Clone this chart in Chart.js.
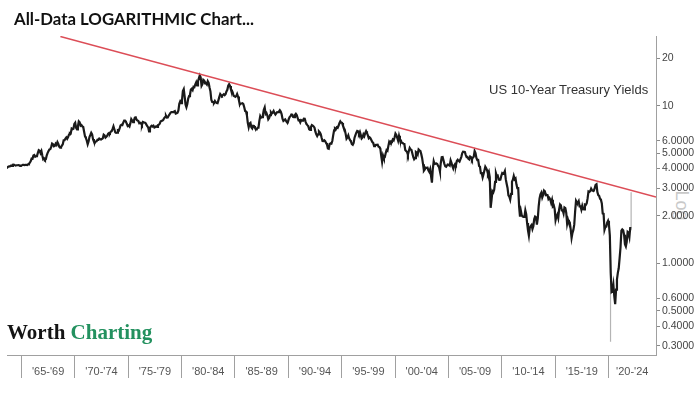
<!DOCTYPE html>
<html>
<head>
<meta charset="utf-8">
<script src="https://cdn.jsdelivr.net/npm/chart.js@4"></script>
<style>
  html, body { margin: 0; padding: 0; background: #fff; }
  #wrap { position: relative; width: 697px; height: 394px; overflow: hidden; background: #fff; }
  #chart { position: absolute; left: 0; top: 0; z-index: 2; }
  .txt { position: absolute; white-space: nowrap; line-height: 1; }
  #title { left: 14px; top: 8px; font: bold 16.8px Lato, sans-serif; color: #111; z-index: 3; }
  #series { left: 489px; top: 81.5px; font: 13px "Liberation Sans", sans-serif; color: #333; z-index: 3; }
  #logword { left: 666px; top: 195px; font: 18px "Liberation Sans", sans-serif; color: #c9c9c9; transform: rotate(90deg); transform-origin: 50% 50%; z-index: 1; }
  #logo { left: 7px; top: 320px; font: bold 21px "Liberation Serif", serif; color: #141414; z-index: 3; }
  #logo span { color: #23915f; }
</style>
</head>
<body>
<div id="wrap">
  <div class="txt" id="logword">Log</div>
  <canvas id="chart" width="697" height="394"></canvas>
  <div class="txt" id="title">All-Data LOGARITHMIC Chart...</div>
  <div class="txt" id="series">US 10-Year Treasury Yields</div>
  <div class="txt" id="logo">Worth <span>Charting</span></div>
</div>
<script>
// ---- data ----
const firstYear = 1963;
const firstMonth = 7; // July 1963
const monthlyYields = [
  4.02, 4.00, 4.08, 4.11, 4.12, 4.13,
  4.17, 4.15, 4.22, 4.23, 4.20, 4.17, 4.19, 4.19, 4.20, 4.19, 4.15, 4.18,
  4.19, 4.21, 4.21, 4.20, 4.21, 4.21, 4.20, 4.25, 4.29, 4.35, 4.45, 4.62,
  4.61, 4.83, 4.87, 4.75, 4.78, 4.81, 5.02, 5.22, 5.18, 5.01, 5.16, 4.84,
  4.58, 4.63, 4.54, 4.59, 4.85, 5.02, 5.16, 5.28, 5.30, 5.48, 5.75, 5.70,
  5.53, 5.56, 5.74, 5.64, 5.87, 5.72, 5.50, 5.42, 5.46, 5.58, 5.70, 6.03,
  6.04, 6.19, 6.30, 6.17, 6.32, 6.57, 6.72, 6.69, 7.16, 7.10, 7.14, 7.65,
  7.79, 7.24, 7.07, 7.39, 7.95, 7.84, 7.46, 7.53, 7.39, 7.33, 6.84, 6.39,
  6.24, 6.00, 5.70, 5.93, 6.33, 6.52, 6.73, 6.58, 6.14, 5.93, 5.81, 5.93,
  5.95, 6.08, 6.07, 6.19, 6.13, 6.11, 6.11, 6.21, 6.55, 6.48, 6.28, 6.36,
  6.46, 6.64, 6.71, 6.67, 6.85, 6.90, 7.13, 7.40, 7.09, 6.79, 6.73, 6.74,
  6.99, 6.96, 7.21, 7.51, 7.58, 7.54, 7.81, 8.04, 8.04, 7.90, 7.68, 7.43,
  7.50, 7.39, 7.73, 8.23, 8.06, 7.86, 8.06, 8.40, 8.43, 8.14, 8.05, 8.00,
  7.74, 7.79, 7.73, 7.56, 7.90, 7.86, 7.83, 7.77, 7.59, 7.41, 7.29, 6.87,
  7.21, 7.39, 7.46, 7.37, 7.46, 7.28, 7.33, 7.40, 7.34, 7.52, 7.58, 7.69,
  7.96, 8.03, 8.04, 8.15, 8.35, 8.46, 8.64, 8.41, 8.42, 8.64, 8.81, 9.01,
  9.10, 9.10, 9.12, 9.18, 9.25, 8.91, 8.95, 9.03, 9.33, 10.30, 10.65, 10.39,
  10.80, 12.41, 12.75, 11.47, 10.18, 9.78, 10.25, 11.10, 11.51, 11.75, 12.68, 12.84,
  12.57, 13.19, 13.12, 13.68, 14.10, 13.47, 14.28, 14.94, 15.60, 15.15, 13.39, 13.72,
  14.59, 14.43, 13.86, 13.87, 13.62, 14.30, 13.95, 13.06, 12.34, 10.91, 10.55, 10.54,
  10.46, 10.72, 10.51, 10.40, 10.38, 10.85, 11.38, 11.85, 11.65, 11.54, 11.69, 11.83,
  11.67, 11.84, 12.32, 12.63, 13.41, 13.70, 13.36, 12.72, 12.52, 12.16, 11.57, 11.50,
  11.38, 11.51, 11.86, 11.43, 10.85, 10.16, 10.31, 10.33, 10.37, 10.24, 9.78, 9.26,
  9.19, 8.70, 7.78, 7.30, 7.71, 7.80, 7.30, 7.17, 7.45, 7.43, 7.25, 7.11,
  7.08, 7.25, 7.25, 8.02, 8.61, 8.40, 8.45, 8.76, 9.42, 9.75, 8.86, 8.99,
  8.67, 8.21, 8.37, 8.72, 9.09, 8.92, 9.06, 9.26, 8.98, 8.80, 8.96, 9.11,
  9.09, 9.17, 9.36, 9.18, 8.86, 8.28, 8.02, 8.11, 8.19, 8.01, 7.87, 7.84,
  8.21, 8.47, 8.59, 8.79, 8.76, 8.48, 8.47, 8.75, 8.89, 8.72, 8.39, 8.08,
  8.09, 7.85, 8.11, 8.04, 8.07, 8.28, 8.27, 7.90, 7.65, 7.53, 7.42, 7.09,
  7.03, 7.34, 7.54, 7.48, 7.39, 7.26, 6.84, 6.59, 6.42, 6.59, 6.87, 6.77,
  6.60, 6.26, 5.98, 5.97, 6.04, 5.96, 5.81, 5.68, 5.36, 5.33, 5.72, 5.77,
  5.75, 5.97, 6.48, 6.97, 7.18, 7.10, 7.30, 7.24, 7.46, 7.74, 7.96, 7.81,
  7.78, 7.47, 7.20, 7.06, 6.63, 6.17, 6.28, 6.49, 6.20, 6.04, 5.93, 5.71,
  5.65, 5.81, 6.27, 6.51, 6.74, 6.91, 6.87, 6.64, 6.83, 6.53, 6.20, 6.30,
  6.58, 6.42, 6.69, 6.89, 6.71, 6.49, 6.22, 6.30, 6.21, 6.03, 5.88, 5.81,
  5.54, 5.57, 5.65, 5.64, 5.65, 5.50, 5.46, 5.34, 4.81, 4.40, 4.83, 4.65,
  4.72, 5.00, 5.23, 5.18, 5.54, 5.90, 5.79, 5.94, 5.92, 6.11, 6.03, 6.28,
  6.66, 6.52, 6.26, 5.99, 6.44, 6.10, 6.05, 5.83, 5.80, 5.74, 5.72, 5.24,
  5.16, 5.10, 4.89, 5.14, 5.39, 5.28, 5.24, 4.97, 4.73, 4.57, 4.65, 5.09,
  5.04, 4.91, 5.28, 5.21, 5.16, 4.93, 4.65, 4.26, 3.87, 3.94, 4.05, 4.03,
  4.05, 3.90, 3.81, 3.96, 3.57, 3.25, 3.98, 4.45, 4.27, 4.29, 4.30, 4.27,
  4.15, 4.08, 3.83, 4.35, 4.72, 4.73, 4.50, 4.28, 4.13, 4.10, 4.19, 4.23,
  4.22, 4.17, 4.50, 4.34, 4.14, 4.00, 4.18, 4.26, 4.20, 4.46, 4.54, 4.47,
  4.42, 4.57, 4.72, 4.99, 5.11, 5.11, 5.09, 4.88, 4.72, 4.73, 4.60, 4.56,
  4.76, 4.72, 4.56, 4.69, 4.75, 5.15, 5.00, 4.67, 4.52, 4.53, 4.15, 4.10,
  3.74, 3.74, 3.51, 3.68, 3.88, 4.10, 4.01, 3.89, 3.69, 3.81, 3.53, 2.25,
  2.52, 2.87, 2.82, 2.93, 3.29, 3.72, 3.56, 3.59, 3.40, 3.39, 3.40, 3.59,
  3.73, 3.69, 3.73, 3.85, 3.42, 3.20, 3.01, 2.70, 2.65, 2.54, 2.76, 3.29,
  3.39, 3.58, 3.41, 3.46, 3.17, 3.00, 3.00, 2.30, 1.98, 2.15, 2.01, 1.98,
  1.97, 1.97, 2.17, 2.05, 1.80, 1.62, 1.50, 1.68, 1.72, 1.75, 1.65, 1.72,
  1.91, 1.98, 1.96, 1.76, 1.93, 2.30, 2.58, 2.74, 2.81, 2.62, 2.72, 2.90,
  2.86, 2.71, 2.72, 2.71, 2.56, 2.60, 2.54, 2.42, 2.53, 2.30, 2.33, 2.21,
  1.88, 1.98, 2.04, 1.94, 2.20, 2.36, 2.32, 2.17, 2.17, 2.07, 2.26, 2.24,
  2.09, 1.78, 1.89, 1.81, 1.81, 1.64, 1.45, 1.56, 1.63, 1.76, 2.14, 2.49,
  2.43, 2.42, 2.48, 2.30, 2.30, 2.19, 2.32, 2.21, 2.20, 2.36, 2.35, 2.40,
  2.58, 2.86, 2.84, 2.87, 2.98, 2.91, 2.89, 2.89, 3.00, 3.15, 3.18, 2.83,
  2.71, 2.68, 2.57, 2.53, 2.40, 2.07, 2.06, 1.63, 1.70, 1.71, 1.81, 1.86,
  1.76, 1.50, 0.87, 0.66, 0.67, 0.73, 0.62, 0.55, 0.68, 0.79, 0.87, 0.93,
  1.08, 1.26, 1.61, 1.64, 1.62, 1.52, 1.32, 1.28, 1.37, 1.58, 1.56, 1.47,
  1.70
];

// long intraday range bars drawn in grey (year, low, high)
const rangeYears = [2020.19, 2022.12];
const rangeLows  = [0.318, 1.62];
const rangeHighs = [1.05, 2.83];

// red trend line (year, yield)
const trendYears  = [1968.65, 2024.45];
const trendValues = [27.5, 2.636];

// x axis: five-year period buckets
const periodStarts = [1965, 1970, 1975, 1980, 1985, 1990, 1995, 2000, 2005, 2010, 2015, 2020];
const periodLabels = ["'65-'69", "'70-'74", "'75-'79", "'80-'84", "'85-'89", "'90-'94",
                      "'95-'99", "'00-'04", "'05-'09", "'10-'14", "'15-'19", "'20-'24"];
const xMin = 1963.65;
const xMax = 2024.45;

// y axis (log)
const yTickValues = [0.3, 0.4, 0.5, 0.6, 1, 2, 3, 4, 5, 6, 10, 20];
const yTickLabels = ['0.3000', '0.4000', '0.5000', '0.6000', '1.0000', '2.0000',
                     '3.0000', '4.0000', '5.0000', '6.0000', '10', '20'];
const yMin = 0.262;
const yMax = 27.7;

// ---- build datasets ----
const mainPoints = monthlyYields.map((v, i) => ({ x: firstYear + (firstMonth - 1 + i + 0.5) / 12, y: v }));
const rangePoints = [];
rangeYears.forEach((yr, i) => {
  rangePoints.push({ x: yr, y: rangeLows[i] });
  rangePoints.push({ x: yr, y: rangeHighs[i] });
  rangePoints.push({ x: yr, y: null });
});
const trendPoints = trendYears.map((yr, i) => ({ x: yr, y: trendValues[i] }));

// x ticks: separators at period starts and label ticks at period middles
const xTicks = [];
periodStarts.forEach((s, i) => {
  const end = i + 1 < periodStarts.length ? periodStarts[i + 1] : xMax;
  xTicks.push({ value: s, text: '', sep: true });
  xTicks.push({ value: (s + end) / 2, text: periodLabels[i], sep: false });
});

new Chart(document.getElementById('chart'), {
  type: 'line',
  data: {
    datasets: [
      { data: rangePoints, borderColor: '#b4b4b4', borderWidth: 1.2, pointRadius: 0, spanGaps: false, order: 3 },
      { data: mainPoints, borderColor: '#1a1a1a', borderWidth: 2.2, pointRadius: 0, tension: 0, borderJoinStyle: 'miter', order: 2 },
      { data: trendPoints, borderColor: '#dc4d57', borderWidth: 1.5, pointRadius: 0, order: 1 }
    ]
  },
  options: {
    responsive: false,
    animation: false,
    devicePixelRatio: 1,
    layout: { padding: { left: 7, top: 36, right: 0, bottom: 0 } },
    plugins: { legend: { display: false }, tooltip: { enabled: false }, title: { display: false } },
    scales: {
      x: {
        type: 'linear',
        position: 'bottom',
        min: xMin,
        max: xMax,
        afterBuildTicks: (s) => { s.ticks = xTicks.map(t => ({ value: t.value })); },
        afterFit: (s) => { s.height = 39; },
        ticks: {
          autoSkip: false, maxRotation: 0, minRotation: 0, padding: -13,
          color: '#555', font: { family: 'Liberation Sans', size: 11 },
          callback: (v, i) => xTicks[i] ? xTicks[i].text : ''
        },
        grid: {
          drawOnChartArea: false, drawTicks: true, tickLength: 23, tickWidth: 1,
          tickColor: (ctx) => (ctx.tick && xTicks[ctx.index] && xTicks[ctx.index].sep) ? '#a0a0a0' : 'rgba(0,0,0,0)'
        },
        border: { display: true, color: '#a0a0a0', width: 1 }
      },
      y: {
        type: 'logarithmic',
        position: 'right',
        min: yMin,
        max: yMax,
        afterBuildTicks: (s) => { s.ticks = yTickValues.map(v => ({ value: v })); },
        afterFit: (s) => { s.width = 41; },
        ticks: {
          autoSkip: false, padding: 2, color: '#444',
          font: { family: 'Liberation Sans', size: 10.5 },
          callback: (v, i) => yTickLabels[i]
        },
        grid: { drawOnChartArea: false, drawTicks: true, tickLength: 4, tickColor: '#8a8a8a' },
        border: { display: true, color: '#a0a0a0', width: 1 }
      }
    }
  }
});
</script>
</body>
</html>
